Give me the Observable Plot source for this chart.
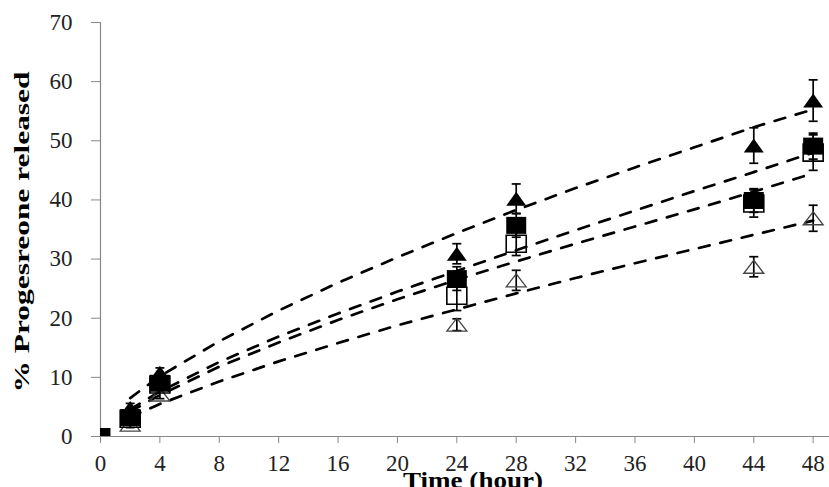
<!DOCTYPE html>
<html>
<head>
<meta charset="utf-8">
<script src="https://cdn.jsdelivr.net/npm/d3@7"></script>
<script src="https://cdn.jsdelivr.net/npm/@observablehq/plot@0.6"></script>
<style>
  html, body { margin: 0; padding: 0; background: #fff; }
  #chart { width: 829px; height: 487px; overflow: hidden; }
  #chart svg text { font-family: "Liberation Serif", "Times New Roman", Times, serif; }
</style>
</head>
<body>
<div id="chart"></div>
<script>
// ---- Data ----
const times = [0, 2, 4, 24, 28, 44, 48];

const filledTriangle   = [null, 4.8, 10.8, 30.9, 40.2, 49.2, 56.8];
const filledTriangleSD = [null, 0.8, 0.8, 1.7, 2.5, 3.0, 3.5];
const filledSquare     = [0, 3.2, 9.0, 26.7, 35.7, 39.9, 49.1];
const filledSquareSD   = [0, 0.6, 0.8, 2.0, 2.0, 2.0, 2.2];
const openSquare       = [null, 3.0, 8.8, 23.8, 32.6, 39.4, 48.0];
const openSquareSD     = [null, 0.5, 0.8, 2.5, 2.0, 2.3, 3.0];
const openTriangle     = [null, 2.0, 7.1, 18.9, 26.4, 28.7, 36.9];
const openTriangleSD   = [null, 0.5, 0.7, 1.0, 1.7, 1.7, 2.2];

// Dashed trend lines
const fitTimes = [2, 4, 8, 12, 16, 20, 24, 28, 32, 36, 40, 44, 48];
const fitFilledTriangle = [6.5, 10.2, 16.1, 21.3, 26.0, 30.3, 34.4, 38.3, 42.0, 45.5, 48.9, 52.3, 55.3];
const fitFilledSquare   = [4.6, 7.6, 12.6, 16.9, 20.8, 24.5, 28.0, 31.5, 34.9, 38.2, 41.5, 44.7, 48.0];
const fitOpenSquare     = [4.2, 7.0, 11.8, 15.9, 19.7, 23.2, 26.5, 29.6, 32.6, 35.5, 38.4, 41.4, 44.5];
const fitOpenTriangle   = [3.3, 5.5, 9.3, 12.7, 15.8, 18.8, 21.5, 24.2, 26.8, 29.3, 31.7, 34.1, 36.5];

const xTicks = [0, 4, 8, 12, 16, 20, 24, 28, 32, 36, 40, 44, 48];
const yTicks = [0, 10, 20, 30, 40, 50, 60, 70];

const xTitle = "Time (hour)";
const yTitle = "% Progesreone released";

// ---- Build tables ----
const seriesList = [
  {name: "filledTriangle", values: filledTriangle, sd: filledTriangleSD, fit: fitFilledTriangle},
  {name: "filledSquare", values: filledSquare, sd: filledSquareSD, fit: fitFilledSquare},
  {name: "openSquare", values: openSquare, sd: openSquareSD, fit: fitOpenSquare},
  {name: "openTriangle", values: openTriangle, sd: openTriangleSD, fit: fitOpenTriangle}
];
const points = [];
const fits = [];
for (const s of seriesList) {
  times.forEach((t, i) => {
    if (s.values[i] != null) points.push({series: s.name, time: t, value: s.values[i], sd: s.sd[i]});
  });
  fitTimes.forEach((t, i) => fits.push({series: s.name, time: t, value: s.fit[i]}));
}
const errs = points.filter(d => d.sd > 0);
const of = name => points.filter(d => d.series === name);

// ---- Marker symbols ----
const triSym = {draw(ctx) { ctx.moveTo(0, -7); ctx.lineTo(10, 7); ctx.lineTo(-10, 7); ctx.closePath(); }};
const openTriSym = {draw(ctx) { ctx.moveTo(0, -6.5); ctx.lineTo(10, 6.5); ctx.lineTo(-10, 6.5); ctx.closePath(); }};
const sqSym = {draw(ctx) { ctx.rect(-10, -8.5, 20, 17); }};
const capSym = {draw(ctx) { ctx.moveTo(-4.5, 0); ctx.lineTo(4.5, 0); }};

const chart = Plot.plot({
  width: 829,
  height: 487,
  marginLeft: 100,
  marginRight: 0,
  marginTop: 22,
  marginBottom: 51,
  style: {fontFamily: "Liberation Serif, Times New Roman, serif", fontSize: "23px", background: "#fff", color: "#222", overflow: "visible"},
  x: {domain: [0, 49.1]},
  y: {domain: [0, 70]},
  marks: [
    Plot.axisX({ticks: xTicks, tickSize: 7, tickPadding: 11, stroke: "#888", fill: "#222", fontSize: 23, label: null}),
    Plot.axisY({ticks: yTicks, tickSize: 9, tickPadding: 19, stroke: "#888", fill: "#222", fontSize: 23, label: null}),
    Plot.ruleY([0], {stroke: "#888", strokeWidth: 1.2}),
    Plot.ruleX([0], {stroke: "#888", strokeWidth: 1.2}),
    Plot.line(fits, {x: "time", y: "value", z: "series", stroke: "black", strokeWidth: 2.7, strokeDasharray: "11,11"}),
    Plot.ruleX(errs, {x: "time", y1: d => d.value - d.sd, y2: d => d.value + d.sd, stroke: "black", strokeWidth: 1.7}),
    Plot.dot(errs, {x: "time", y: d => d.value + d.sd, symbol: capSym, stroke: "black", fill: "none", strokeWidth: 1.7}),
    Plot.dot(errs, {x: "time", y: d => d.value - d.sd, symbol: capSym, stroke: "black", fill: "none", strokeWidth: 1.7}),
    Plot.dot(of("openTriangle"), {x: "time", y: "value", symbol: openTriSym, stroke: "#444", fill: "none", strokeWidth: 1.3}),
    Plot.dot(of("openSquare"), {x: "time", y: "value", symbol: sqSym, stroke: "black", fill: "none", strokeWidth: 1.6}),
    Plot.dot(of("filledSquare").filter(d => d.time > 0), {x: "time", y: "value", symbol: sqSym, fill: "black", stroke: "none"}),
    Plot.dot(of("filledSquare").filter(d => d.time === 0), {x: "time", y: "value", symbol: sqSym, fill: "black", stroke: "none", clip: true}),
    Plot.dot(of("filledTriangle"), {x: "time", y: "value", symbol: triSym, fill: "black", stroke: "none"})
  ]
});

const svg = d3.select(chart);
svg.selectAll('[aria-label="x-axis tick label"] text, [aria-label="y-axis tick label"] text')
  .style("font-size", "23px");
svg.append("text")
  .attr("x", 473).attr("y", 488)
  .attr("text-anchor", "middle")
  .attr("font-weight", "bold")
  .attr("font-size", 24)
  .attr("fill", "#000")
  .attr("textLength", 140)
  .attr("lengthAdjust", "spacingAndGlyphs")
  .text(xTitle);
svg.append("text")
  .attr("transform", "translate(29,232) rotate(-90)")
  .attr("text-anchor", "middle")
  .attr("font-weight", "bold")
  .attr("font-size", 20)
  .attr("fill", "#000")
  .attr("textLength", 321)
  .attr("lengthAdjust", "spacingAndGlyphs")
  .text(yTitle);

document.getElementById("chart").appendChild(chart);
</script>
</body>
</html>
